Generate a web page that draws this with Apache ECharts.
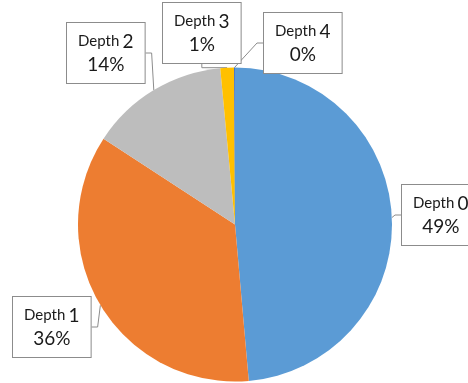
<!DOCTYPE html>
<html><head><meta charset="utf-8">
<script src="https://cdn.jsdelivr.net/npm/echarts@6/dist/echarts.min.js"></script>
<style>html,body{margin:0;padding:0;background:#fff}#c{width:468px;height:383px}</style>
</head><body><div id="c"></div>
<script>
const categories = ['Depth 0', 'Depth 1', 'Depth 2', 'Depth 3', 'Depth 4'];
const values = [48.6, 35.6, 14.3, 1.4, 0.1];
const colors = ['#5B9BD5', '#ED7D31', '#BDBDBD', '#FFC000', '#4472C4'];
const labelBoxes = [[402, 185], [13, 297], [67, 23], [163, 3], [264, 13]];

const chart = echarts.init(document.getElementById('c'));
chart.setOption({
  animation: false,
  series: [{
    type: 'pie',
    center: [235, 224.5],
    radius: 157,
    startAngle: 90,
    clockwise: true,
    avoidLabelOverlap: false,
    data: categories.map((n, i) => ({ name: n, value: values[i], itemStyle: { color: colors[i] } })),
    itemStyle: { borderWidth: 0 },
    label: {
      show: true,
      position: 'outside',
      formatter: p => {
        const parts = p.name.split(' ');
        return '{a|' + parts[0] + '} {b|' + parts[1] + '}\n{c|' + Math.round(p.percent) + '%}';
      },
      backgroundColor: '#fff',
      borderColor: '#8C8C8C',
      borderWidth: 1,
      padding: [7, 11, 7, 11],
      align: 'center',
      rich: {
        a: { fontFamily: 'Lato', fontSize: 15, color: '#1a1a1a', lineHeight: 23 },
        b: { fontFamily: 'Lato', fontSize: 19, color: '#1a1a1a', lineHeight: 23 },
        c: { fontFamily: 'Lato', fontSize: 19, color: '#1a1a1a', lineHeight: 23, align: 'center' }
      }
    },
    labelLine: { show: true, length: 6, length2: 6, lineStyle: { color: '#8C8C8C', width: 1 } },
    labelLayout: function (params) {
      const b = labelBoxes[params.dataIndex];
      return { x: b[0], y: b[1], align: 'left', verticalAlign: 'top', hideOverlap: false };
    }
  }]
});
</script></body></html>
